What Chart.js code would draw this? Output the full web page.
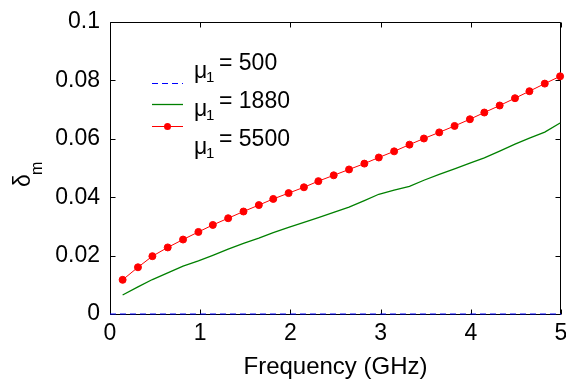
<!DOCTYPE html>
<html>
<head>
<meta charset="utf-8">
<script src="https://cdn.jsdelivr.net/npm/chart.js@4/dist/chart.umd.min.js"></script>
<style>
  html, body { margin: 0; padding: 0; background: #fff; overflow: hidden; }
</style>
</head>
<body>
<canvas id="deltaChart" width="566" height="379"></canvas>
<script>
// frequency points (GHz)
var freq = [0.14, 0.31, 0.47, 0.64, 0.81, 0.98, 1.14, 1.31, 1.48, 1.65,
            1.81, 1.98, 2.15, 2.31, 2.48, 2.65, 2.82, 2.98, 3.15, 3.32,
            3.48, 3.65, 3.82, 3.99, 4.15, 4.32, 4.49, 4.65, 4.82, 4.99];
var freqMu500 = [0, 1, 2, 3, 4, 5];

// delta_m for each mu_1
var deltaMu500 = [0, 0, 0, 0, 0, 0];
var deltaMu1880 = [0.0065, 0.0093, 0.0118, 0.0141, 0.0164, 0.0182, 0.0201, 0.0222, 0.0242, 0.0260,
                   0.0279, 0.0297, 0.0314, 0.0330, 0.0348, 0.0366, 0.0388, 0.0410, 0.0424, 0.0437,
                   0.0458, 0.0478, 0.0497, 0.0517, 0.0535, 0.0558, 0.0582, 0.0602, 0.0623, 0.0654];
var deltaMu5500 = [0.0117, 0.0160, 0.0198, 0.0228, 0.0255, 0.0281, 0.0305, 0.0328, 0.0351, 0.0373,
                   0.0394, 0.0414, 0.0434, 0.0455, 0.0475, 0.0495, 0.0515, 0.0536, 0.0557, 0.0580,
                   0.0601, 0.0622, 0.0644, 0.0667, 0.0690, 0.0714, 0.0739, 0.0763, 0.0789, 0.0814];

var muLabels = ['500', '1880', '5500'];
var xTicks = [0, 1, 2, 3, 4, 5];
var yTicks = [0, 0.02, 0.04, 0.06, 0.08, 0.1];

var FONT = '"Liberation Sans", Arial, sans-serif';

function pairs(xs, ys) {
    return xs.map(function (x, i) { return { x: x, y: ys[i] }; });
}

// box around the axes with inward ticks on all four sides
var frameTicks = {
    id: 'frameTicks',
    beforeDatasetsDraw: function (chart) {
        var ctx = chart.ctx, a = chart.chartArea;
        var xs = chart.scales.x, ys = chart.scales.y;
        var L = Math.round(a.left) + 0.5, R = Math.round(a.right) - 0.5;
        var T = Math.round(a.top) + 0.5, B = Math.round(a.bottom) + 0.5;
        var len = 5;
        ctx.save();
        ctx.strokeStyle = '#000';
        ctx.lineWidth = 1;
        ctx.beginPath();
        ctx.rect(L, T, R - L, B - T);
        xTicks.forEach(function (v) {
            var px = Math.round(xs.getPixelForValue(v)) + 0.5;
            ctx.moveTo(px, B); ctx.lineTo(px, B - len);
            ctx.moveTo(px, T); ctx.lineTo(px, T + len);
        });
        yTicks.forEach(function (v) {
            var py = Math.round(ys.getPixelForValue(v)) + 0.5;
            ctx.moveTo(L, py); ctx.lineTo(L + len, py);
            ctx.moveTo(R, py); ctx.lineTo(R - len, py);
        });
        ctx.stroke();
        ctx.restore();
    }
};

// legend inside the axes + y axis title with subscripts
var muLegend = {
    id: 'muLegend',
    afterDraw: function (chart) {
        var ctx = chart.ctx;
        var lineY = [83, 104, 126];
        var textY = [70, 108, 146];
        ctx.save();
        chart.data.datasets.forEach(function (ds, i) {
            ctx.strokeStyle = ds.borderColor;
            ctx.lineWidth = ds.borderWidth;
            ctx.setLineDash(ds.borderDash || []);
            ctx.beginPath();
            ctx.moveTo(152, lineY[i] + 0.5);
            ctx.lineTo(183, lineY[i] + 0.5);
            ctx.stroke();
            ctx.setLineDash([]);
            if (ds.pointRadius > 0) {
                ctx.fillStyle = ds.pointBackgroundColor;
                ctx.beginPath();
                ctx.arc(167.5, lineY[i] + 0.5, ds.pointRadius, 0, Math.PI * 2);
                ctx.fill();
            }
            ctx.fillStyle = '#000';
            ctx.textAlign = 'left';
            ctx.textBaseline = 'alphabetic';
            ctx.font = '23px ' + FONT;
            ctx.fillText('\u03bc', 194, textY[i] + 8);
            ctx.font = '15px ' + FONT;
            ctx.fillText('1', 206, textY[i] + 12);
            ctx.font = '23px ' + FONT;
            ctx.fillText('= ' + muLabels[i], 219, textY[i]);
        });

        ctx.translate(30, 187);
        ctx.rotate(-Math.PI / 2);
        ctx.font = '23px ' + FONT;
        ctx.fillText('\u03b4', 0, 0);
        ctx.font = '16px ' + FONT;
        ctx.fillText('m', 12, 12);
        ctx.restore();
    }
};

Chart.defaults.color = '#000';
Chart.defaults.font.family = FONT;
Chart.defaults.font.size = 23;

var ctx = document.getElementById('deltaChart').getContext('2d');
var chart = new Chart(ctx, {
    type: 'line',
    data: {
        datasets: [{
            label: '\u03bc1 = ' + muLabels[0],
            data: pairs(freqMu500, deltaMu500),
            borderColor: '#0000ff',
            borderWidth: 1,
            borderDash: [6, 4],
            pointRadius: 0,
            clip: false
        }, {
            label: '\u03bc1 = ' + muLabels[1],
            data: pairs(freq, deltaMu1880),
            borderColor: '#008000',
            borderWidth: 1.3,
            pointRadius: 0,
            clip: false
        }, {
            label: '\u03bc1 = ' + muLabels[2],
            data: pairs(freq, deltaMu5500),
            borderColor: '#ff0000',
            backgroundColor: '#ff0000',
            pointBackgroundColor: '#ff0000',
            pointBorderColor: '#ff0000',
            borderWidth: 1,
            pointRadius: 3.5,
            clip: false
        }]
    },
    options: {
        responsive: false,
        animation: false,
        devicePixelRatio: 1,
        layout: { padding: { left: 0, top: 22, right: 1, bottom: 0 } },
        plugins: {
            legend: { display: false },
            tooltip: { enabled: false }
        },
        scales: {
            x: {
                type: 'linear',
                min: 0,
                max: 5,
                border: { display: false },
                grid: { display: false, drawTicks: false },
                ticks: {
                    stepSize: 1,
                    padding: 6,
                    maxRotation: 0,
                    font: { size: 23 }
                },
                title: {
                    display: true,
                    text: 'Frequency (GHz)',
                    font: { size: 24, lineHeight: 1 },
                    padding: { top: 0, bottom: 0 }
                },
                afterFit: function (s) {
                    s.height = 65;
                    s.paddingLeft = 0;
                    s.paddingRight = 0;
                }
            },
            y: {
                type: 'linear',
                min: 0,
                max: 0.1,
                border: { display: false },
                grid: { display: false, drawTicks: false },
                ticks: {
                    stepSize: 0.02,
                    padding: 10,
                    font: { size: 23 },
                    callback: function (v) { return String(+v.toFixed(2)); }
                },
                afterFit: function (s) {
                    s.width = 110;
                    s.paddingTop = 0;
                    s.paddingBottom = 0;
                }
            }
        }
    },
    plugins: [frameTicks, muLegend]
});
</script>
</body>
</html>
